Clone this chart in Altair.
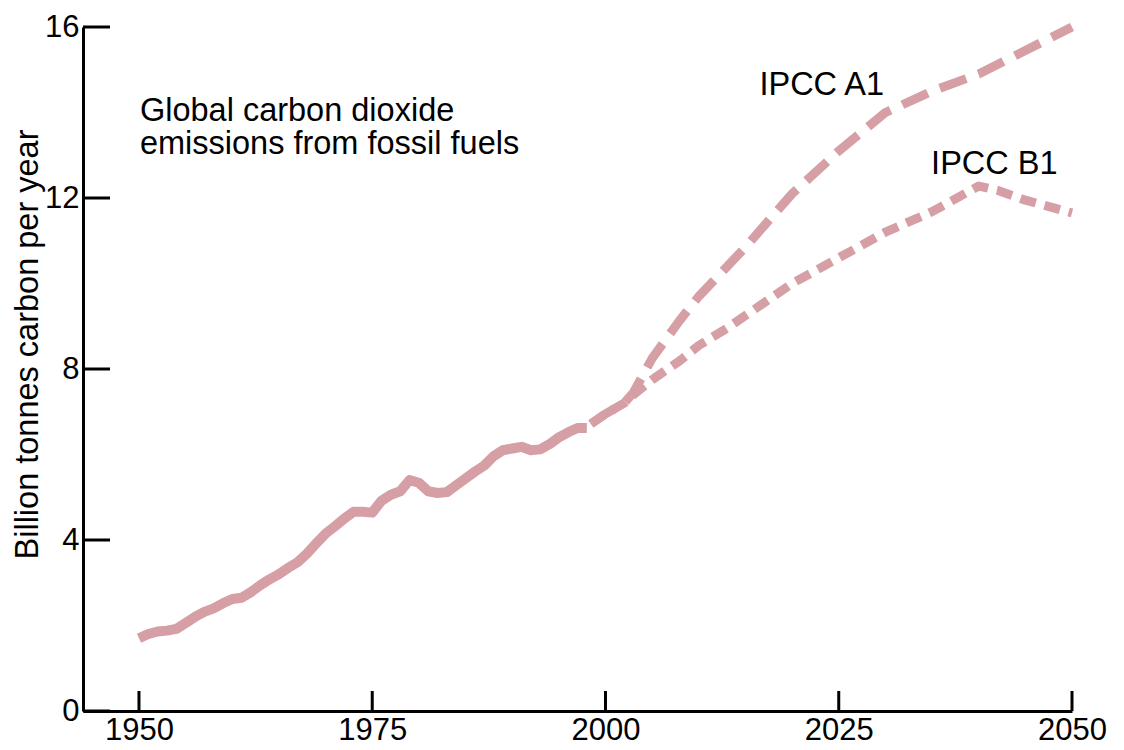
import altair as alt
import pandas as pd

# ---- data ----
hist_years = list(range(1950, 1999))
hist_values = [1.70, 1.80, 1.86, 1.88, 1.92, 2.06, 2.20, 2.32, 2.40, 2.52,
               2.62, 2.65, 2.78, 2.94, 3.08, 3.20, 3.35, 3.48, 3.68, 3.92,
               4.15, 4.32, 4.50, 4.66, 4.66, 4.64, 4.92, 5.06, 5.14, 5.40,
               5.34, 5.14, 5.10, 5.12, 5.28, 5.44, 5.60, 5.74, 5.96, 6.10,
               6.14, 6.18, 6.10, 6.12, 6.24, 6.40, 6.52, 6.62, 6.62]

a1_years = [1998, 2000, 2002, 2003, 2005, 2008, 2010, 2015, 2020, 2025,
            2030, 2035, 2040, 2045, 2050]
a1_values = [6.65, 6.95, 7.20, 7.45, 8.25, 9.15, 9.70, 10.85, 12.10, 13.10,
             14.00, 14.50, 14.90, 15.45, 16.00]

b1_years = [1998, 2000, 2002, 2003, 2005, 2008, 2010, 2013, 2015, 2020,
            2025, 2030, 2035, 2040, 2042, 2045, 2050]
b1_values = [6.65, 6.95, 7.20, 7.40, 7.75, 8.20, 8.55, 8.95, 9.25, 10.00,
             10.60, 11.20, 11.68, 12.28, 12.18, 11.95, 11.65]

x_ticks = [1950, 1975, 2000, 2025, 2050]
y_ticks = [0, 4, 8, 12, 16]

note_lines = ["Global carbon dioxide", "emissions from fossil fuels"]
note_x = [1950.1, 1950.1]
note_y = [13.81, 13.02]

label_text = ["IPCC A1", "IPCC B1"]
label_x = [2016.5, 2034.9]
label_y = [14.42, 12.56]

# ---- styling ----
PINK = "#D59FA5"
FONT = "Liberation Sans"
FS = 31
FS_NOTE = 32.5
FS_TITLE = 32.5
W, H = 989, 684

xscale = alt.Scale(domain=[1944, 2050], nice=False, zero=False)
yscale = alt.Scale(domain=[0, 16], nice=False)

xaxis = alt.Axis(values=x_ticks, format="d", title=None, grid=False,
                 ticks=False, tickSize=0, domainColor="black",
                 domainWidth=3, labelColor="black", labelFont=FONT,
                 labelFontSize=FS, labelPadding=4, labelFlush=False,
                 labelOverlap=False)
yaxis = alt.Axis(values=y_ticks, title="Billion tonnes carbon per year",
                 grid=False, ticks=False, tickSize=0,
                 domainColor="black", domainWidth=3,
                 labelColor="black", labelFont=FONT, labelFontSize=FS,
                 labelPadding=4, labelFlush=False, labelOverlap=False,
                 titleFont=FONT, titleFontSize=FS_TITLE,
                 titleFontWeight="normal", titleColor="black",
                 titleAngle=270, titleX=-56, titleY=317,
                 titleAlign="center", titleBaseline="middle")


def X(field):
    return alt.X(field, scale=xscale, axis=xaxis, title=None)


def Y(field):
    return alt.Y(field, scale=yscale, axis=yaxis,
                 title="Billion tonnes carbon per year")


hist_df = pd.DataFrame({"year": hist_years, "value": hist_values})
a1_df = pd.DataFrame({"year": a1_years, "value": a1_values})
b1_df = pd.DataFrame({"year": b1_years, "value": b1_values})

hist = alt.Chart(hist_df).mark_line(
    color=PINK, strokeWidth=10, strokeCap="butt", strokeJoin="round"
).encode(x=X("year:Q"), y=Y("value:Q"))

a1 = alt.Chart(a1_df).mark_line(
    color=PINK, strokeWidth=9, strokeDash=[28, 13], strokeDashOffset=36,
    strokeCap="butt", strokeJoin="round"
).encode(x=X("year:Q"), y=Y("value:Q"))

b1 = alt.Chart(b1_df).mark_line(
    color=PINK, strokeWidth=9, strokeDash=[16, 9], strokeDashOffset=20,
    strokeCap="butt", strokeJoin="round"
).encode(x=X("year:Q"), y=Y("value:Q"))

ytick_df = pd.DataFrame({"v": y_ticks})
xtick_df = pd.DataFrame({"t": x_ticks})

yticks = alt.Chart(ytick_df).mark_rule(color="black", strokeWidth=3).encode(
    y=Y("v:Q"), x=alt.value(0), x2=alt.value(27),
)
xticks = alt.Chart(xtick_df).mark_rule(color="black", strokeWidth=3).encode(
    x=X("t:Q"), y=alt.value(H), y2=alt.value(H - 20),
)

note_df = pd.DataFrame({"text": note_lines, "x": note_x, "y": note_y})
note = alt.Chart(note_df).mark_text(
    align="left", baseline="alphabetic", font=FONT, fontSize=FS_NOTE,
    color="black"
).encode(x=X("x:Q"), y=Y("y:Q"), text="text:N")

lab_df = pd.DataFrame({"text": label_text, "x": label_x, "y": label_y})
labels = alt.Chart(lab_df).mark_text(
    align="left", baseline="alphabetic", font=FONT, fontSize=FS_NOTE,
    color="black"
).encode(x=X("x:Q"), y=Y("y:Q"), text="text:N")

chart = alt.layer(hist, a1, b1, yticks, xticks, note, labels).properties(
    width=W, height=H,
    autosize=alt.AutoSizeParams(type="none"),
    padding={"left": 75, "top": 19, "right": 44, "bottom": 37},
    background="white",
).configure_view(stroke=None)

chart.save("out.html", embed_options={"renderer": "svg", "actions": False})
